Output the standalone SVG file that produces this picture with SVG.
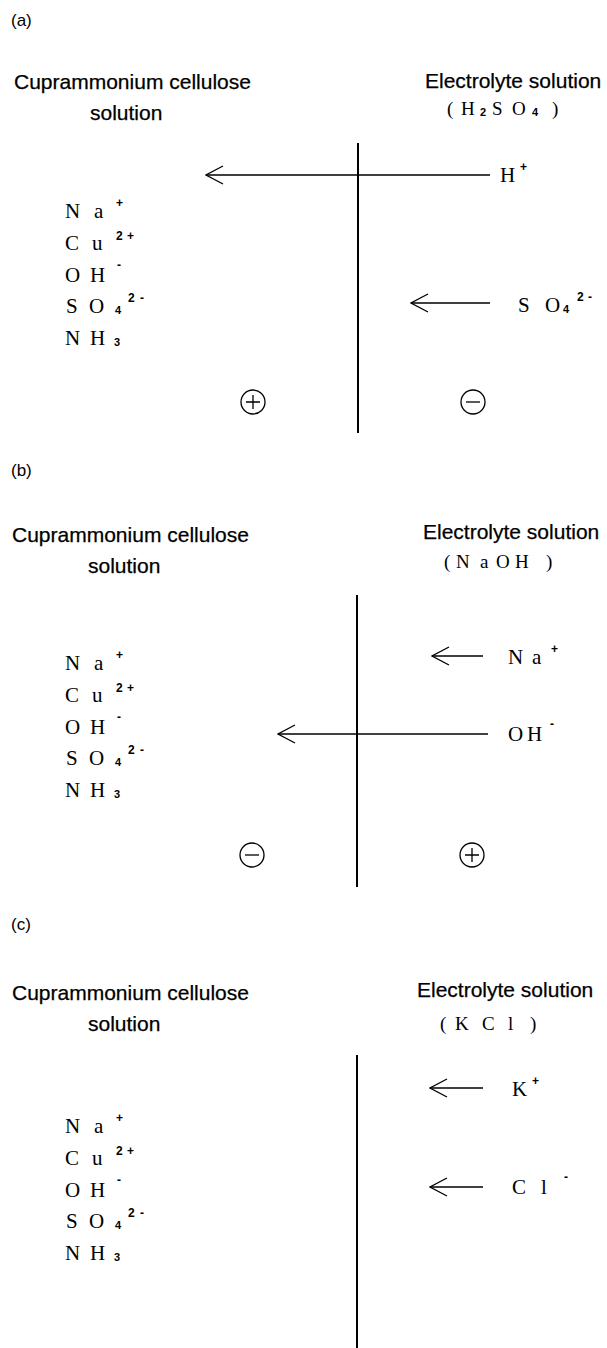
<svg xmlns="http://www.w3.org/2000/svg" width="607" height="1348" viewBox="0 0 607 1348">
<style>
.lbl{font-family:"Liberation Sans",Arial,sans-serif;font-size:17px;fill:#000}
.t{font-family:"Liberation Sans",Arial,sans-serif;font-size:21px;fill:#000;stroke:#000;stroke-width:0.25}
.ion{font-family:"Liberation Serif","Times New Roman",serif;font-size:21px;fill:#000}
.f{font-family:"Liberation Serif","Times New Roman",serif;font-size:19px;fill:#000}
.sup{font-family:"Liberation Sans",Arial,sans-serif;font-size:12px;font-weight:bold;fill:#000}
.sub{font-family:"Liberation Sans",Arial,sans-serif;font-size:11px;font-weight:bold;fill:#000}
.wall{stroke:#000;stroke-width:2;fill:none}
.arr{stroke:#000;stroke-width:1.3;fill:none}
.pole{stroke:#000;stroke-width:1.3;fill:none}
</style>
<defs>
<marker id="ah" viewBox="0 0 20 20" refX="19" refY="10" markerWidth="20" markerHeight="20" markerUnits="userSpaceOnUse" orient="auto">
<path d="M2,1 L19,10 L2,19" fill="none" stroke="#000" stroke-width="1.3"/>
</marker>
</defs>

<!-- Panel (a) -->
<g id="panel-a">
<text class="lbl" x="11" y="26">(a)</text>
<g id="a-left-title"><text class="t" x="14" y="89">Cuprammonium cellulose</text><text class="t" x="90" y="120">solution</text></g>
<g id="a-right-title"><text class="t" x="425" y="88">Electrolyte solution</text>
<text class="f" x="447 461" y="115">(H</text><text class="sub" x="480" y="116">2</text><text class="f" x="492 512" y="115">SO</text><text class="sub" x="532" y="116">4</text><text class="f" x="552" y="115">)</text></g>
<g id="a-ions">
<text class="ion" x="65 94" y="218">Na</text><text class="sup" x="116" y="207">+</text>
<text class="ion" x="65 92" y="250">Cu</text><text class="sup" x="116 127" y="240">2+</text>
<text class="ion" x="65 90" y="282">OH</text><text class="sup" x="117" y="269">-</text>
<text class="ion" x="66 89" y="313">SO</text><text class="sub" x="115" y="314">4</text><text class="sup" x="128 140" y="302">2-</text>
<text class="ion" x="65 90" y="345">NH</text><text class="sub" x="114" y="346">3</text>
</g>
<g id="a-H"><text class="ion" x="500" y="182">H</text><text class="sup" x="520" y="171">+</text></g>
<g id="a-SO4"><text class="ion" x="518 545" y="312">SO</text><text class="sub" x="563" y="313">4</text><text class="sup" x="577 588" y="301">2-</text></g>
<g id="a-plus"><circle class="pole" cx="253" cy="402" r="12"/><path class="pole" d="M246,402 H260 M253,395 V409"/></g>
<g id="a-minus"><circle class="pole" cx="473" cy="402" r="12"/><path class="pole" d="M466,402 H480"/></g>
</g>

<!-- Panel (b) -->
<g id="panel-b">
<text class="lbl" x="11" y="476">(b)</text>
<g id="b-left-title"><text class="t" x="12" y="542">Cuprammonium cellulose</text><text class="t" x="88" y="573">solution</text></g>
<g id="b-right-title"><text class="t" x="423" y="539">Electrolyte solution</text>
<text class="f" x="444 456 480 496 515 546" y="568">(NaOH)</text></g>
<g id="b-ions">
<text class="ion" x="65 94" y="670">Na</text><text class="sup" x="116" y="659">+</text>
<text class="ion" x="65 92" y="702">Cu</text><text class="sup" x="116 127" y="692">2+</text>
<text class="ion" x="65 90" y="734">OH</text><text class="sup" x="117" y="721">-</text>
<text class="ion" x="66 89" y="765">SO</text><text class="sub" x="115" y="766">4</text><text class="sup" x="128 140" y="754">2-</text>
<text class="ion" x="65 90" y="797">NH</text><text class="sub" x="114" y="798">3</text>
</g>
<g id="b-Na"><text class="ion" x="508 532" y="664">Na</text><text class="sup" x="551" y="653">+</text></g>
<g id="b-OH"><text class="ion" x="508 527" y="741">OH</text><text class="sup" x="550" y="728">-</text></g>
<g id="b-minus"><circle class="pole" cx="252" cy="855" r="12"/><path class="pole" d="M245,855 H259"/></g>
<g id="b-plus"><circle class="pole" cx="472" cy="855" r="12"/><path class="pole" d="M465,855 H479 M472,848 V862"/></g>
</g>

<!-- Panel (c) -->
<g id="panel-c">
<text class="lbl" x="11" y="930">(c)</text>
<g id="c-left-title"><text class="t" x="12" y="1000">Cuprammonium cellulose</text><text class="t" x="88" y="1031">solution</text></g>
<g id="c-right-title"><text class="t" x="417" y="997">Electrolyte solution</text>
<text class="f" x="440 455 482 508 530" y="1030">(KCl)</text></g>
<g id="c-ions">
<text class="ion" x="65 94" y="1133">Na</text><text class="sup" x="116" y="1122">+</text>
<text class="ion" x="65 92" y="1165">Cu</text><text class="sup" x="116 127" y="1155">2+</text>
<text class="ion" x="65 90" y="1197">OH</text><text class="sup" x="117" y="1184">-</text>
<text class="ion" x="66 89" y="1228">SO</text><text class="sub" x="115" y="1229">4</text><text class="sup" x="128 140" y="1217">2-</text>
<text class="ion" x="65 90" y="1260">NH</text><text class="sub" x="114" y="1261">3</text>
</g>
<g id="c-K"><text class="ion" x="512" y="1096">K</text><text class="sup" x="532" y="1085">+</text></g>
<g id="c-Cl"><text class="ion" x="512 541" y="1194">Cl</text><text class="sup" x="564" y="1181">-</text></g>
</g>

<!-- Connectors -->
<g id="connectors">
<path class="wall" d="M358,143 V433"/>
<path class="wall" d="M357,595 V887"/>
<path class="wall" d="M357,1055 V1348"/>
<path class="arr" d="M490,175 H206" marker-end="url(#ah)"/>
<path class="arr" d="M490,303 H411" marker-end="url(#ah)"/>
<path class="arr" d="M483,656 H432" marker-end="url(#ah)"/>
<path class="arr" d="M488,734 H278" marker-end="url(#ah)"/>
<path class="arr" d="M483,1088 H430" marker-end="url(#ah)"/>
<path class="arr" d="M483,1187 H430" marker-end="url(#ah)"/>
</g>
</svg>
